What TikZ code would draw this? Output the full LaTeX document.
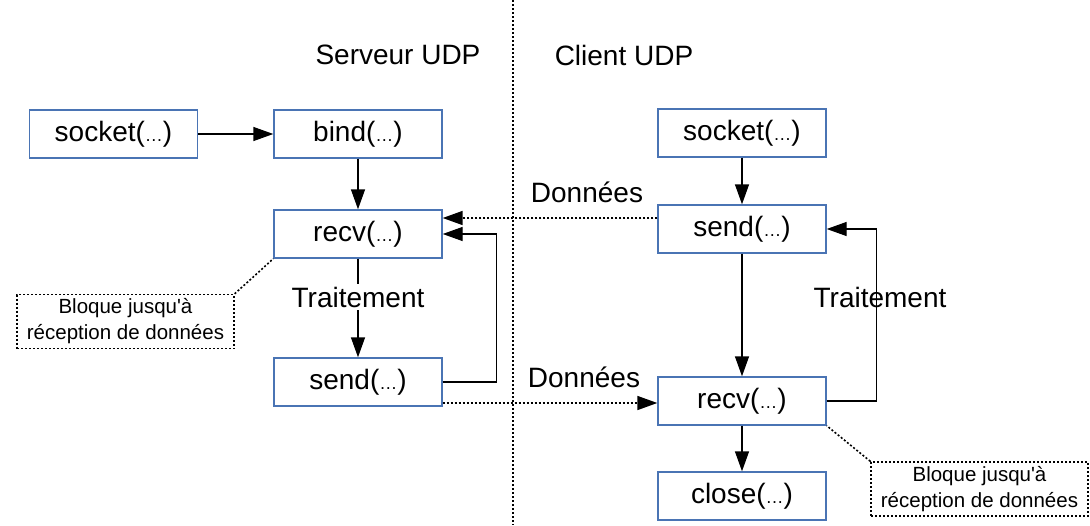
\documentclass[tikz,border=0pt]{standalone}
\usepackage{fontspec}
\setmainfont{Liberation Sans}
\newfontfamily\notefont{Liberation Sans}[Ligatures=TeXOff]
\usetikzlibrary{arrows.meta}
\definecolor{boxblue}{HTML}{4A74B4}
\newcommand\dd{{\fontsize{18}{18}\selectfont\ldots}}
\begin{document}
\begin{tikzpicture}[x=1pt,y=-1pt,
  fn/.style={draw=boxblue,line width=1.4pt,fill=white,minimum width=168pt,minimum height=48pt,inner sep=0pt,font=\fontsize{28}{32}\selectfont},
  lbl/.style={font=\fontsize{28}{32}\selectfont,inner sep=3pt},
  note/.style={draw,line width=1.4pt,dash pattern=on 2pt off 2pt,minimum width=217pt,minimum height=54pt,inner sep=0pt,align=center,font=\notefont\fontsize{20.5}{26}\selectfont},
  arr/.style={line width=1.4pt,-{Triangle[length=20pt,width=14pt]}},
  line/.style={line width=1.4pt},
  darr/.style={line width=1.6pt,dash pattern=on 2pt off 2pt,-{Triangle[length=20pt,width=14pt]}},
  dline/.style={line width=1.6pt,dash pattern=on 2pt off 2pt}]
\useasboundingbox (0,0) rectangle (1090,525);
\draw[dline] (513,0) -- (513,525);
% headers
\node[lbl] (hs) at (398,55) {Serveur UDP};
\node[lbl] (hc) at (624,55) {Client UDP};
% server
\node[fn] (s1) at (113.5,134) {socket(\dd)};
\node[fn] (b1) at (358,134) {bind(\dd)};
\node[fn] (r1) at (358,234) {recv(\dd)};
\node[lbl] (t1) at (358,297) {Traitement};
\node[fn] (sd1) at (358,382) {send(\dd)};
\node[note] (n1) at (125.5,321.5) {Bloque jusqu'à\\réception de données};
% client
\node[fn] (cs) at (742,133) {socket(\dd)};
\node[fn] (rs) at (742,229) {send(\dd)};
\node[lbl] (t2) at (880,297) {Traitement};
\node[fn] (rr) at (742,401) {recv(\dd)};
\node[fn] (cl) at (742,496) {close(\dd)};
\node[note] (n2) at (979.5,489) {Bloque jusqu'à\\réception de données};
\node[lbl] (d1) at (587,192) {Données};
\node[lbl] (d2) at (584,377) {Données};
% server arrows
\draw[arr] (s1) -- (b1);
\draw[arr] (b1) -- (r1);
\draw[line] (r1) -- (t1);
\draw[arr] (t1) -- (sd1);
\draw[arr] (sd1.east) -- ++(54,0) |- (r1.east);
\draw[dline] (n1.north east) -- (r1.south west);
% client arrows
\draw[arr] (cs) -- (rs);
\draw[arr] (rs) -- (rr);
\draw[arr] (rr) -- (cl);
\draw[line] (rr.east) -- ++(50,0) coordinate (rl);
\draw[arr] (rl) |- (rs.east);
\draw[dline] (n2.north west) -- (rr.south east);
% data
\draw[darr] ([yshift=11pt]rs.west) -- ([yshift=11pt]rs.west -| r1.east);
\draw[darr] ([yshift=-21pt]sd1.east) -- ([yshift=-21pt]sd1.east -| rr.west);
\end{tikzpicture}
\end{document}
